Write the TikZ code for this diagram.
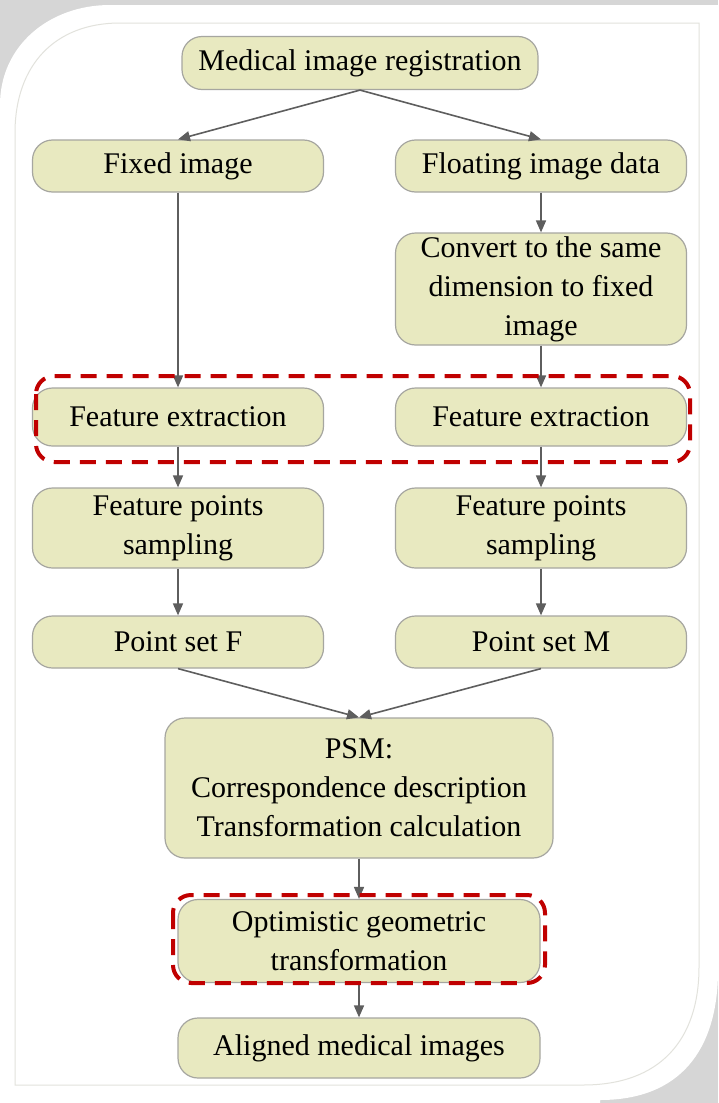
\documentclass[tikz,border=0pt]{standalone}
\usepackage{fontspec}
\setmainfont{Liberation Serif}
\usetikzlibrary{arrows.meta}
\definecolor{verdoso}{HTML}{E8E9C0}
\definecolor{borde}{HTML}{A6A6A0}
\definecolor{flecha}{HTML}{5E5E5E}
\definecolor{rojo}{HTML}{C00000}
\definecolor{sombra}{HTML}{D6D6D6}
\definecolor{linea}{HTML}{E2E2DC}

\begin{document}
\begin{tikzpicture}[x=0.5pt,y=-0.5pt,
	caja/.style={draw=borde, fill=verdoso, rounded corners=10pt, line width=0.6pt,
		align=center, inner sep=1pt, font=\fontsize{15}{19.5}\selectfont},
	lado/.style={caja, minimum width=145.5pt},
	centro/.style={caja, minimum width=181pt},
	flecha/.style={draw=flecha, line width=0.8pt, -{Triangle[length=6pt,width=5pt]}},
	marco/.style={draw=rojo, line width=2pt, dash pattern=on 8pt off 5pt, rounded corners=9pt}]

	\useasboundingbox (0,0) rectangle (718,1103);

% Fondo
	\fill[sombra] (0,0) rectangle (718,1103);
	\fill[white] (0,1103) -- (0,105) .. controls (0,45) and (50,5) .. (110,5)
		-- (718,5) -- (718,970) .. controls (718,1050) and (680,1100) .. (600,1100)
		-- (600,1103) -- cycle;
	\draw[linea, line width=0.5pt] (15,1085) -- (15,133) .. controls (15,65) and (55,23) .. (120,23)
		-- (699,23) -- (699,967) .. controls (699,1040) and (660,1085) .. (583,1085) -- cycle;

% Nodos
	\node[caja, minimum width=178pt, minimum height=26.5pt] (reg) at (360,63) {Medical image registration};

	\node[lado, minimum height=26pt] (fijo) at (178,166) {Fixed image};
	\node[lado, minimum height=26pt] (flot) at (541,166) {Floating image data};
	\node[lado, minimum height=56pt] (conv) at (541,289) {Convert to the same\\dimension to fixed\\image};

	\node[lado, minimum height=29pt] (extF) at (178,417) {Feature extraction};
	\node[lado, minimum height=29pt] (extM) at (541,417) {Feature extraction};

	\node[lado, minimum height=40pt] (muesF) at (178,528) {Feature points\\sampling};
	\node[lado, minimum height=40pt] (muesM) at (541,528) {Feature points\\sampling};

	\node[lado, minimum height=26pt] (setF) at (178,642) {Point set F};
	\node[lado, minimum height=26pt] (setM) at (541,642) {Point set M};

	\node[caja, minimum width=194pt, minimum height=70pt] (psm) at (359,788)
		{PSM:\\Correspondence description\\Transformation calculation};
	\node[centro, minimum height=41.5pt] (opt) at (359,941) {Optimistic geometric\\transformation};
	\node[centro, minimum height=30pt] (alin) at (359,1048) {Aligned medical images};

% Flechas
	\draw[flecha] (reg.south) -- (fijo.north);
	\draw[flecha] (reg.south) -- (flot.north);
	\draw[flecha] (fijo) -- (extF);
	\draw[flecha] (flot) -- (conv);
	\draw[flecha] (conv) -- (extM);
	\draw[flecha] (extF) -- (muesF);
	\draw[flecha] (extM) -- (muesM);
	\draw[flecha] (muesF) -- (setF);
	\draw[flecha] (muesM) -- (setM);
	\draw[flecha] (setF.south) -- (psm.north);
	\draw[flecha] (setM.south) -- (psm.north);
	\draw[flecha] (psm) -- (opt);
	\draw[flecha] (opt) -- (alin);

% Marcos rojos
	\draw[marco] (36,376) rectangle (690,462);
	\draw[marco] (173,895) rectangle (545,983);

\end{tikzpicture}
\end{document}
